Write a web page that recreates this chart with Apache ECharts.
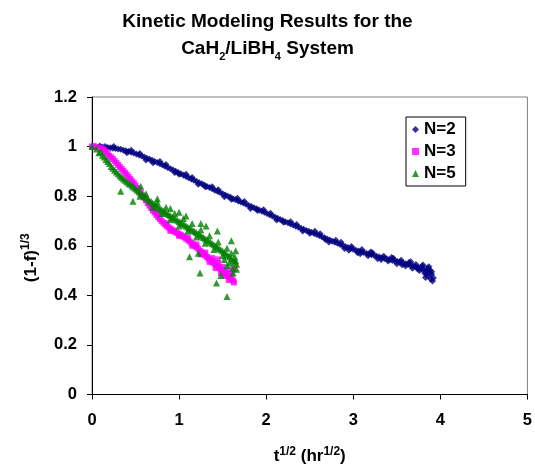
<!DOCTYPE html>
<html>
<head>
<meta charset="utf-8">
<script src="https://cdn.jsdelivr.net/npm/echarts@6/dist/echarts.min.js"></script>
<style>html,body{margin:0;padding:0;background:#fff}#c{width:535px;height:470px}</style>
</head>
<body>
<div id="c"></div>
<script>
var seriesNames = ['N=2', 'N=3', 'N=5'];
var xTicks = [0, 1, 2, 3, 4, 5];
var yTicks = [0, 0.2, 0.4, 0.6, 0.8, 1, 1.2];

var dataN2 = [
[0.09,1.002],[0.12,0.998],[0.15,1.000],[0.18,0.996],[0.21,0.995],[0.24,0.993],[0.27,0.992],[0.30,0.990],
[0.33,0.989],[0.36,0.985],[0.39,0.983],[0.42,0.980],[0.45,0.977],[0.48,0.974],[0.51,0.970],[0.54,0.966],
[0.57,0.962],[0.60,0.958],[0.63,0.953],[0.66,0.949],[0.69,0.945],[0.72,0.940],[0.75,0.936],[0.78,0.931],
[0.81,0.926],[0.84,0.921],[0.87,0.916],[0.90,0.911],[0.93,0.906],[0.96,0.901],[0.99,0.895],[1.02,0.890],
[1.05,0.884],[1.08,0.879],[1.11,0.874],[1.14,0.869],[1.17,0.864],[1.20,0.860],[1.23,0.854],[1.26,0.850],
[1.29,0.845],[1.32,0.839],[1.35,0.835],[1.38,0.830],[1.41,0.824],[1.44,0.820],[1.47,0.815],[1.50,0.810],
[1.53,0.805],[1.56,0.800],[1.59,0.796],[1.62,0.790],[1.65,0.786],[1.68,0.781],[1.71,0.776],[1.74,0.772],
[1.77,0.767],[1.80,0.762],[1.83,0.758],[1.86,0.753],[1.89,0.749],[1.92,0.744],[1.95,0.739],[1.98,0.735],
[2.01,0.730],[2.04,0.725],[2.07,0.720],[2.10,0.716],[2.13,0.711],[2.16,0.706],[2.19,0.702],[2.22,0.697],
[2.25,0.693],[2.28,0.688],[2.31,0.684],[2.34,0.679],[2.37,0.675],[2.40,0.671],[2.43,0.667],[2.46,0.662],
[2.49,0.658],[2.52,0.654],[2.55,0.649],[2.58,0.645],[2.61,0.641],[2.64,0.636],[2.67,0.632],[2.70,0.627],
[2.73,0.623],[2.76,0.618],[2.79,0.614],[2.82,0.610],[2.85,0.605],[2.88,0.601],[2.91,0.597],[2.94,0.593],
[2.97,0.589],[3.00,0.586],[3.03,0.582],[3.06,0.579],[3.09,0.576],[3.12,0.573],[3.15,0.570],[3.18,0.567],
[3.21,0.564],[3.24,0.561],[3.27,0.558],[3.30,0.555],[3.33,0.552],[3.36,0.549],[3.39,0.547],[3.42,0.544],
[3.45,0.541],[3.48,0.539],[3.51,0.536],[3.54,0.533],[3.57,0.530],[3.60,0.527],[3.63,0.524],[3.66,0.521],
[3.69,0.518],[3.72,0.514],[3.75,0.511],[3.78,0.507],[3.81,0.503],[3.84,0.498],[3.87,0.492],[3.90,0.485],
[0.25,1.000],[0.40,0.975],[0.55,0.972],[0.70,0.935],[0.85,0.928],[1.00,0.888],[1.15,0.875],[1.30,0.838],
[1.45,0.826],[1.60,0.788],[1.75,0.778],[1.90,0.742],[2.05,0.731],[2.20,0.695],[2.35,0.686],[2.50,0.650],
[2.62,0.648],[2.72,0.615],[2.80,0.622],[2.90,0.589],[2.98,0.597],[3.05,0.572],[3.10,0.585],[3.17,0.560],
[3.22,0.572],[3.28,0.548],[3.35,0.558],[3.40,0.538],[3.46,0.550],[3.50,0.527],[3.55,0.542],[3.60,0.518],
[3.64,0.532],[3.68,0.509],[3.72,0.524],[3.76,0.500],[3.79,0.518],[3.82,0.490],[3.85,0.510],[3.86,0.478],
[3.88,0.502],[3.89,0.466],[3.90,0.495],[3.91,0.458],
[0.45,0.985],[0.62,0.946],[0.78,0.940],[0.95,0.895],[1.08,0.888],[1.22,0.848],[1.38,0.838],[1.52,0.798],
[1.67,0.792],[1.82,0.750],[1.97,0.745],[2.12,0.704],[2.28,0.697],[2.42,0.660],[2.56,0.658],[2.68,0.625],
[2.86,0.614],[2.95,0.582],[3.08,0.568],[3.20,0.575],[3.32,0.545],[3.44,0.553],[3.56,0.523],[3.66,0.535],
[3.74,0.506],[3.80,0.522],[3.84,0.485],[3.87,0.515],[3.92,0.470],[3.83,0.472]
];

var dataN3 = [
[0.00,1.000],[0.02,1.002],[0.04,0.998],[0.10,0.995],[0.12,0.990],[0.14,0.985],[0.16,0.978],[0.18,0.970],
[0.20,0.962],[0.22,0.956],[0.24,0.950],[0.26,0.942],[0.28,0.934],[0.30,0.926],[0.32,0.918],[0.34,0.910],
[0.36,0.902],[0.38,0.894],[0.40,0.886],[0.42,0.877],[0.44,0.869],[0.46,0.860],[0.48,0.852],[0.50,0.843],
[0.52,0.833],[0.54,0.823],[0.56,0.813],[0.58,0.803],[0.60,0.794],[0.62,0.784],[0.64,0.772],[0.66,0.762],
[0.68,0.752],[0.70,0.742],[0.72,0.734],[0.74,0.725],[0.76,0.716],[0.78,0.708],[0.80,0.700],[0.82,0.693],
[0.84,0.686],[0.86,0.679],[0.88,0.674],[0.90,0.669],[0.92,0.664],[0.94,0.660],[0.96,0.655],[0.98,0.651],
[1.00,0.647],[1.02,0.643],[1.04,0.639],[1.06,0.634],[1.08,0.629],[1.10,0.624],[1.12,0.618],[1.14,0.612],
[1.16,0.606],[1.18,0.600],[1.20,0.594],[1.22,0.588],[1.24,0.580],[1.26,0.574],[1.28,0.567],[1.30,0.561],
[1.32,0.555],[1.34,0.548],[1.36,0.542],[1.38,0.536],[1.40,0.530],[1.42,0.524],[1.44,0.517],[1.46,0.511],
[1.48,0.505],[1.50,0.499],[1.52,0.493],[1.54,0.487],[1.56,0.480],[1.58,0.474],[1.60,0.467],[1.62,0.460],
[0.70,0.752],[0.75,0.730],[0.85,0.690],[0.90,0.660],[1.00,0.640],[1.10,0.633],[1.15,0.600],[1.20,0.605],
[1.25,0.565],[1.30,0.572],[1.35,0.535],[1.38,0.550],[1.42,0.510],[1.45,0.530],[1.48,0.490],[1.50,0.515],
[1.53,0.478],[1.55,0.500],[1.57,0.462],[1.60,0.488],[1.63,0.452],[1.62,0.505],[1.44,0.545]
];

var dataN5 = [
[0.00,1.000],[0.05,0.990],[0.08,0.975],[0.10,0.978],[0.12,0.965],[0.14,0.958],[0.16,0.948],[0.18,0.940],
[0.20,0.932],[0.22,0.920],[0.24,0.913],[0.26,0.905],[0.28,0.897],[0.30,0.890],[0.32,0.882],[0.34,0.876],
[0.36,0.870],[0.38,0.864],[0.40,0.858],[0.42,0.852],[0.44,0.848],[0.46,0.841],[0.48,0.836],[0.50,0.830],
[0.52,0.824],[0.54,0.818],[0.56,0.812],[0.58,0.806],[0.60,0.800],[0.62,0.795],[0.64,0.788],[0.66,0.782],
[0.68,0.778],[0.70,0.771],[0.72,0.766],[0.74,0.760],[0.76,0.755],[0.78,0.750],[0.80,0.745],[0.82,0.740],
[0.84,0.735],[0.86,0.730],[0.88,0.726],[0.90,0.721],[0.92,0.716],[0.94,0.712],[0.96,0.707],[0.98,0.703],
[1.00,0.698],[1.02,0.694],[1.04,0.690],[1.06,0.685],[1.08,0.680],[1.10,0.676],[1.12,0.671],[1.14,0.667],
[1.16,0.662],[1.18,0.657],[1.20,0.652],[1.22,0.648],[1.24,0.643],[1.26,0.638],[1.28,0.633],[1.30,0.628],
[1.32,0.624],[1.34,0.619],[1.36,0.614],[1.38,0.609],[1.40,0.604],[1.42,0.599],[1.44,0.594],[1.46,0.589],
[1.48,0.584],[1.50,0.579],[1.52,0.573],[1.54,0.567],[1.56,0.561],[1.58,0.555],[1.60,0.548],[1.62,0.541],
[1.64,0.533],[1.66,0.525],
[0.55,0.800],[0.62,0.810],[0.70,0.755],[0.75,0.775],[0.80,0.730],[0.85,0.755],[0.90,0.705],[0.95,0.730],
[1.00,0.680],[1.05,0.710],[1.10,0.660],[1.15,0.690],[1.20,0.635],[1.25,0.665],[1.30,0.610],[1.35,0.640],
[1.40,0.585],[1.45,0.615],[1.50,0.560],[1.55,0.590],[1.58,0.530],[1.60,0.570],[1.62,0.510],[1.64,0.555],
[1.66,0.505],[1.55,0.520],[1.52,0.545],[1.65,0.540],
[0.33,0.820],[0.47,0.780],[0.56,0.840],[0.75,0.790],[1.12,0.556],[1.22,0.570],[1.24,0.490],[1.25,0.690],
[1.31,0.680],[1.44,0.660],[1.60,0.620],[1.65,0.580],[1.43,0.450],[1.48,0.480],[1.62,0.490],[1.55,0.395],
[1.00,0.735],[0.90,0.750],[1.08,0.720]
];

var FONT = 'Liberation Sans, Arial, sans-serif';
var chart = echarts.init(document.getElementById('c'), null, {renderer: 'canvas'});
var axisText = {color: '#000', fontFamily: FONT, fontWeight: 'bold', fontSize: 16.5};
var nameRich = {
  m: {fontFamily: FONT, fontWeight: 'bold', fontSize: 17, color: '#000', lineHeight: 22},
  p: {fontFamily: FONT, fontWeight: 'bold', fontSize: 12, color: '#000', lineHeight: 13, verticalAlign: 'top'}
};
var option = {
  animation: false,
  backgroundColor: '#fff',
  title: {
    left: 'center',
    top: 8,
    padding: 0,
    text: '{a|Kinetic Modeling Results for the}\n{a|CaH}{s|2}{a|/LiBH}{s|4}{a| System}',
    textStyle: {
      rich: {
        a: {fontFamily: FONT, fontWeight: 'bold', fontSize: 19, color: '#000', lineHeight: 27},
        s: {fontFamily: FONT, fontWeight: 'bold', fontSize: 11, color: '#000', lineHeight: 21, verticalAlign: 'bottom'}
      }
    }
  },
  legend: {
    data: seriesNames,
    orient: 'vertical',
    left: 406,
    top: 117,
    padding: [4, 10, 4, 6],
    itemGap: 5,
    itemWidth: 7,
    itemHeight: 7,
    backgroundColor: '#fff',
    borderColor: '#000',
    borderWidth: 1,
    borderRadius: 0,
    textStyle: {color: '#000', fontFamily: FONT, fontWeight: 'bold', fontSize: 17}
  },
  grid: {
    left: 92, right: 6, top: 97, bottom: 75,
    show: true, borderColor: '#808080', borderWidth: 1, backgroundColor: '#fff'
  },
  xAxis: {
    type: 'value', min: xTicks[0], max: xTicks[xTicks.length - 1], interval: 1,
    axisLine: {onZero: false, lineStyle: {color: '#000', width: 1}},
    axisTick: {show: true, length: 5, lineStyle: {color: '#000'}},
    splitLine: {show: false},
    axisLabel: Object.assign({margin: 17}, axisText),
    name: '{m|t}{p|1/2}{m| (hr}{p|1/2}{m|)}',
    nameLocation: 'middle',
    nameGap: 51,
    nameTextStyle: {rich: nameRich}
  },
  yAxis: {
    type: 'value', min: yTicks[0], max: yTicks[yTicks.length - 1], interval: 0.2,
    axisLine: {onZero: false, lineStyle: {color: '#000', width: 1}},
    axisTick: {show: true, length: 5, lineStyle: {color: '#000'}},
    splitLine: {show: false},
    axisLabel: Object.assign({margin: 15}, axisText),
    name: '{m|(1-f)}{p|1/3}',
    nameLocation: 'middle',
    nameGap: 50,
    nameRotate: 90,
    nameTextStyle: {rich: nameRich, padding: [0, 24, 0, 0]}
  },
  series: [
    {name: seriesNames[0], type: 'scatter', data: dataN2, symbol: 'diamond', symbolSize: 7,
     itemStyle: {color: '#000080'}},
    {name: seriesNames[1], type: 'scatter', data: dataN3, symbol: 'rect', symbolSize: 6,
     itemStyle: {color: '#FF00FF'}},
    {name: seriesNames[2], type: 'scatter', data: dataN5, symbol: 'triangle', symbolSize: 7,
     itemStyle: {color: '#008000'}}
  ]
};
chart.setOption(option);
</script>
</body>
</html>
